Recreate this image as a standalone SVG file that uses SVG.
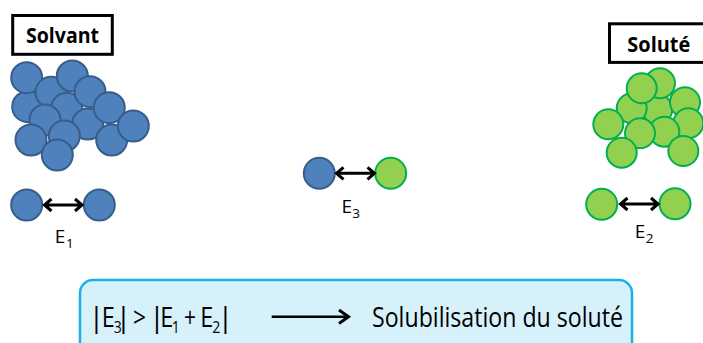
<svg xmlns="http://www.w3.org/2000/svg" width="703" height="343" viewBox="0 0 703 343">
<style>
.bl{fill:#4F81BD;stroke:#385D8A;stroke-width:2}
.gr{fill:#92D050;stroke:#00B050;stroke-width:2}
.lbl{fill:#fff;stroke:#000;stroke-width:3}
.bt{font-family:"Open Sans","Liberation Sans",sans-serif;font-weight:bold;font-size:21px;fill:#000}
.t{font-family:"Open Sans","Liberation Sans",sans-serif;fill:#000;text-anchor:middle}
.ar{fill:none;stroke:#000;stroke-width:3;stroke-linejoin:miter;stroke-linecap:butt}
</style>
<rect width="703" height="343" fill="#fff"/>
<g id="solvant-label">
<rect class="lbl" x="12.7" y="15.5" width="99.6" height="38.8"/>
<text class="bt" x="26" y="43.3" textLength="73" lengthAdjust="spacingAndGlyphs">Solvant</text>
</g>
<g id="solute-label">
<rect class="lbl" x="609.5" y="23.8" width="96" height="38.6"/>
<text class="bt" x="627.3" y="51.7" textLength="63" lengthAdjust="spacingAndGlyphs">Soluté</text>
</g>
<g id="solvant-cluster">
<circle class="bl" cx="27.7" cy="106.7" r="15.5"/>
<circle class="bl" cx="26.7" cy="77.7" r="15.5"/>
<circle class="bl" cx="51" cy="92.3" r="15.5"/>
<circle class="bl" cx="72.3" cy="76" r="15.5"/>
<circle class="bl" cx="66.7" cy="108.3" r="15.5"/>
<circle class="bl" cx="90" cy="91.7" r="15.5"/>
<circle class="bl" cx="45" cy="120" r="15.5"/>
<circle class="bl" cx="87.7" cy="124" r="15.5"/>
<circle class="bl" cx="109.3" cy="107.7" r="15.5"/>
<circle class="bl" cx="111.7" cy="140" r="15.5"/>
<circle class="bl" cx="133.3" cy="126" r="15.5"/>
<circle class="bl" cx="31" cy="140" r="15.5"/>
<circle class="bl" cx="64.3" cy="136" r="15.5"/>
<circle class="bl" cx="57.3" cy="155" r="15.5"/>
</g>
<g id="solute-cluster">
<circle class="gr" cx="657.3" cy="109.3" r="15"/>
<circle class="gr" cx="631.7" cy="108.3" r="15"/>
<circle class="gr" cx="660" cy="83.3" r="15"/>
<circle class="gr" cx="641.7" cy="88.3" r="15"/>
<circle class="gr" cx="685" cy="102.3" r="15"/>
<circle class="gr" cx="688.3" cy="123.3" r="15"/>
<circle class="gr" cx="608.3" cy="124.3" r="15"/>
<circle class="gr" cx="664.3" cy="131.7" r="15"/>
<circle class="gr" cx="640" cy="133.3" r="15"/>
<circle class="gr" cx="621.7" cy="152.7" r="15"/>
<circle class="gr" cx="683.3" cy="151" r="15"/>
</g>
<g id="pair-solvant">
<circle class="bl" cx="26.7" cy="205" r="15.5"/>
<circle class="bl" cx="99.3" cy="205" r="15.5"/>
<text class="t" font-size="19" x="60" y="243.3">E</text>
<text class="t" font-size="13.5" x="69.8" y="247.5">1</text>
</g>
<g id="pair-mixte">
<circle class="bl" cx="319.3" cy="173.3" r="15.5"/>
<circle class="gr" cx="390.7" cy="173.3" r="15.5"/>
<text class="t" font-size="19" x="346.7" y="213.3">E</text>
<text class="t" font-size="13.5" x="356" y="218">3</text>
</g>
<g id="pair-solute">
<circle class="gr" cx="601.7" cy="204.3" r="15.5"/>
<circle class="gr" cx="675" cy="203.8" r="15.5"/>
<text class="t" font-size="19" x="640" y="238.3">E</text>
<text class="t" font-size="13.5" x="649.5" y="243">2</text>
</g>
<g id="condition">
<rect x="80" y="280" width="552" height="90" rx="13" fill="#D7F1FB" stroke="#1BB1EA" stroke-width="2.5"/>
<g class="t" font-size="28">
<text x="96.5" y="327">|</text>
<text x="108.3" y="327" textLength="13" lengthAdjust="spacingAndGlyphs">E</text>
<text x="117.8" y="333" font-size="16" textLength="8" lengthAdjust="spacingAndGlyphs">3</text>
<text x="123.5" y="327">|</text>
<text x="139.5" y="327" textLength="13" lengthAdjust="spacingAndGlyphs">&gt;</text>
<text x="157" y="327">|</text>
<text x="166.7" y="327" textLength="13" lengthAdjust="spacingAndGlyphs">E</text>
<text x="175.8" y="333" font-size="16" textLength="8" lengthAdjust="spacingAndGlyphs">1</text>
<text x="190" y="327" textLength="12" lengthAdjust="spacingAndGlyphs">+</text>
<text x="206.7" y="327" textLength="13" lengthAdjust="spacingAndGlyphs">E</text>
<text x="216.2" y="333" font-size="16" textLength="8" lengthAdjust="spacingAndGlyphs">2</text>
<text x="225.5" y="327">|</text>
</g>
<text font-family="'Open Sans','Liberation Sans',sans-serif" font-size="28" fill="#000" x="372" y="327" textLength="251" lengthAdjust="spacingAndGlyphs">Solubilisation du soluté</text>
</g>
<g id="connectors">
<path class="ar" d="M45,205 H81 M51.5,199 L44.5,205 L51.5,211 M75,199 L82,205 L75,211"/>
<path class="ar" d="M337,173.3 H374 M343.5,167.3 L336.5,173.3 L343.5,179.3 M367.5,167.3 L374.5,173.3 L367.5,179.3"/>
<path class="ar" d="M621,204 H657 M627.5,198 L620.5,204 L627.5,210 M651,198 L658,204 L651,210"/>
<path d="M271.7,316.7 H348" fill="none" stroke="#000" stroke-width="2.5"/>
<path class="ar" d="M339,310 L348.5,316.7 L339,323.4"/>
</g>
</svg>
